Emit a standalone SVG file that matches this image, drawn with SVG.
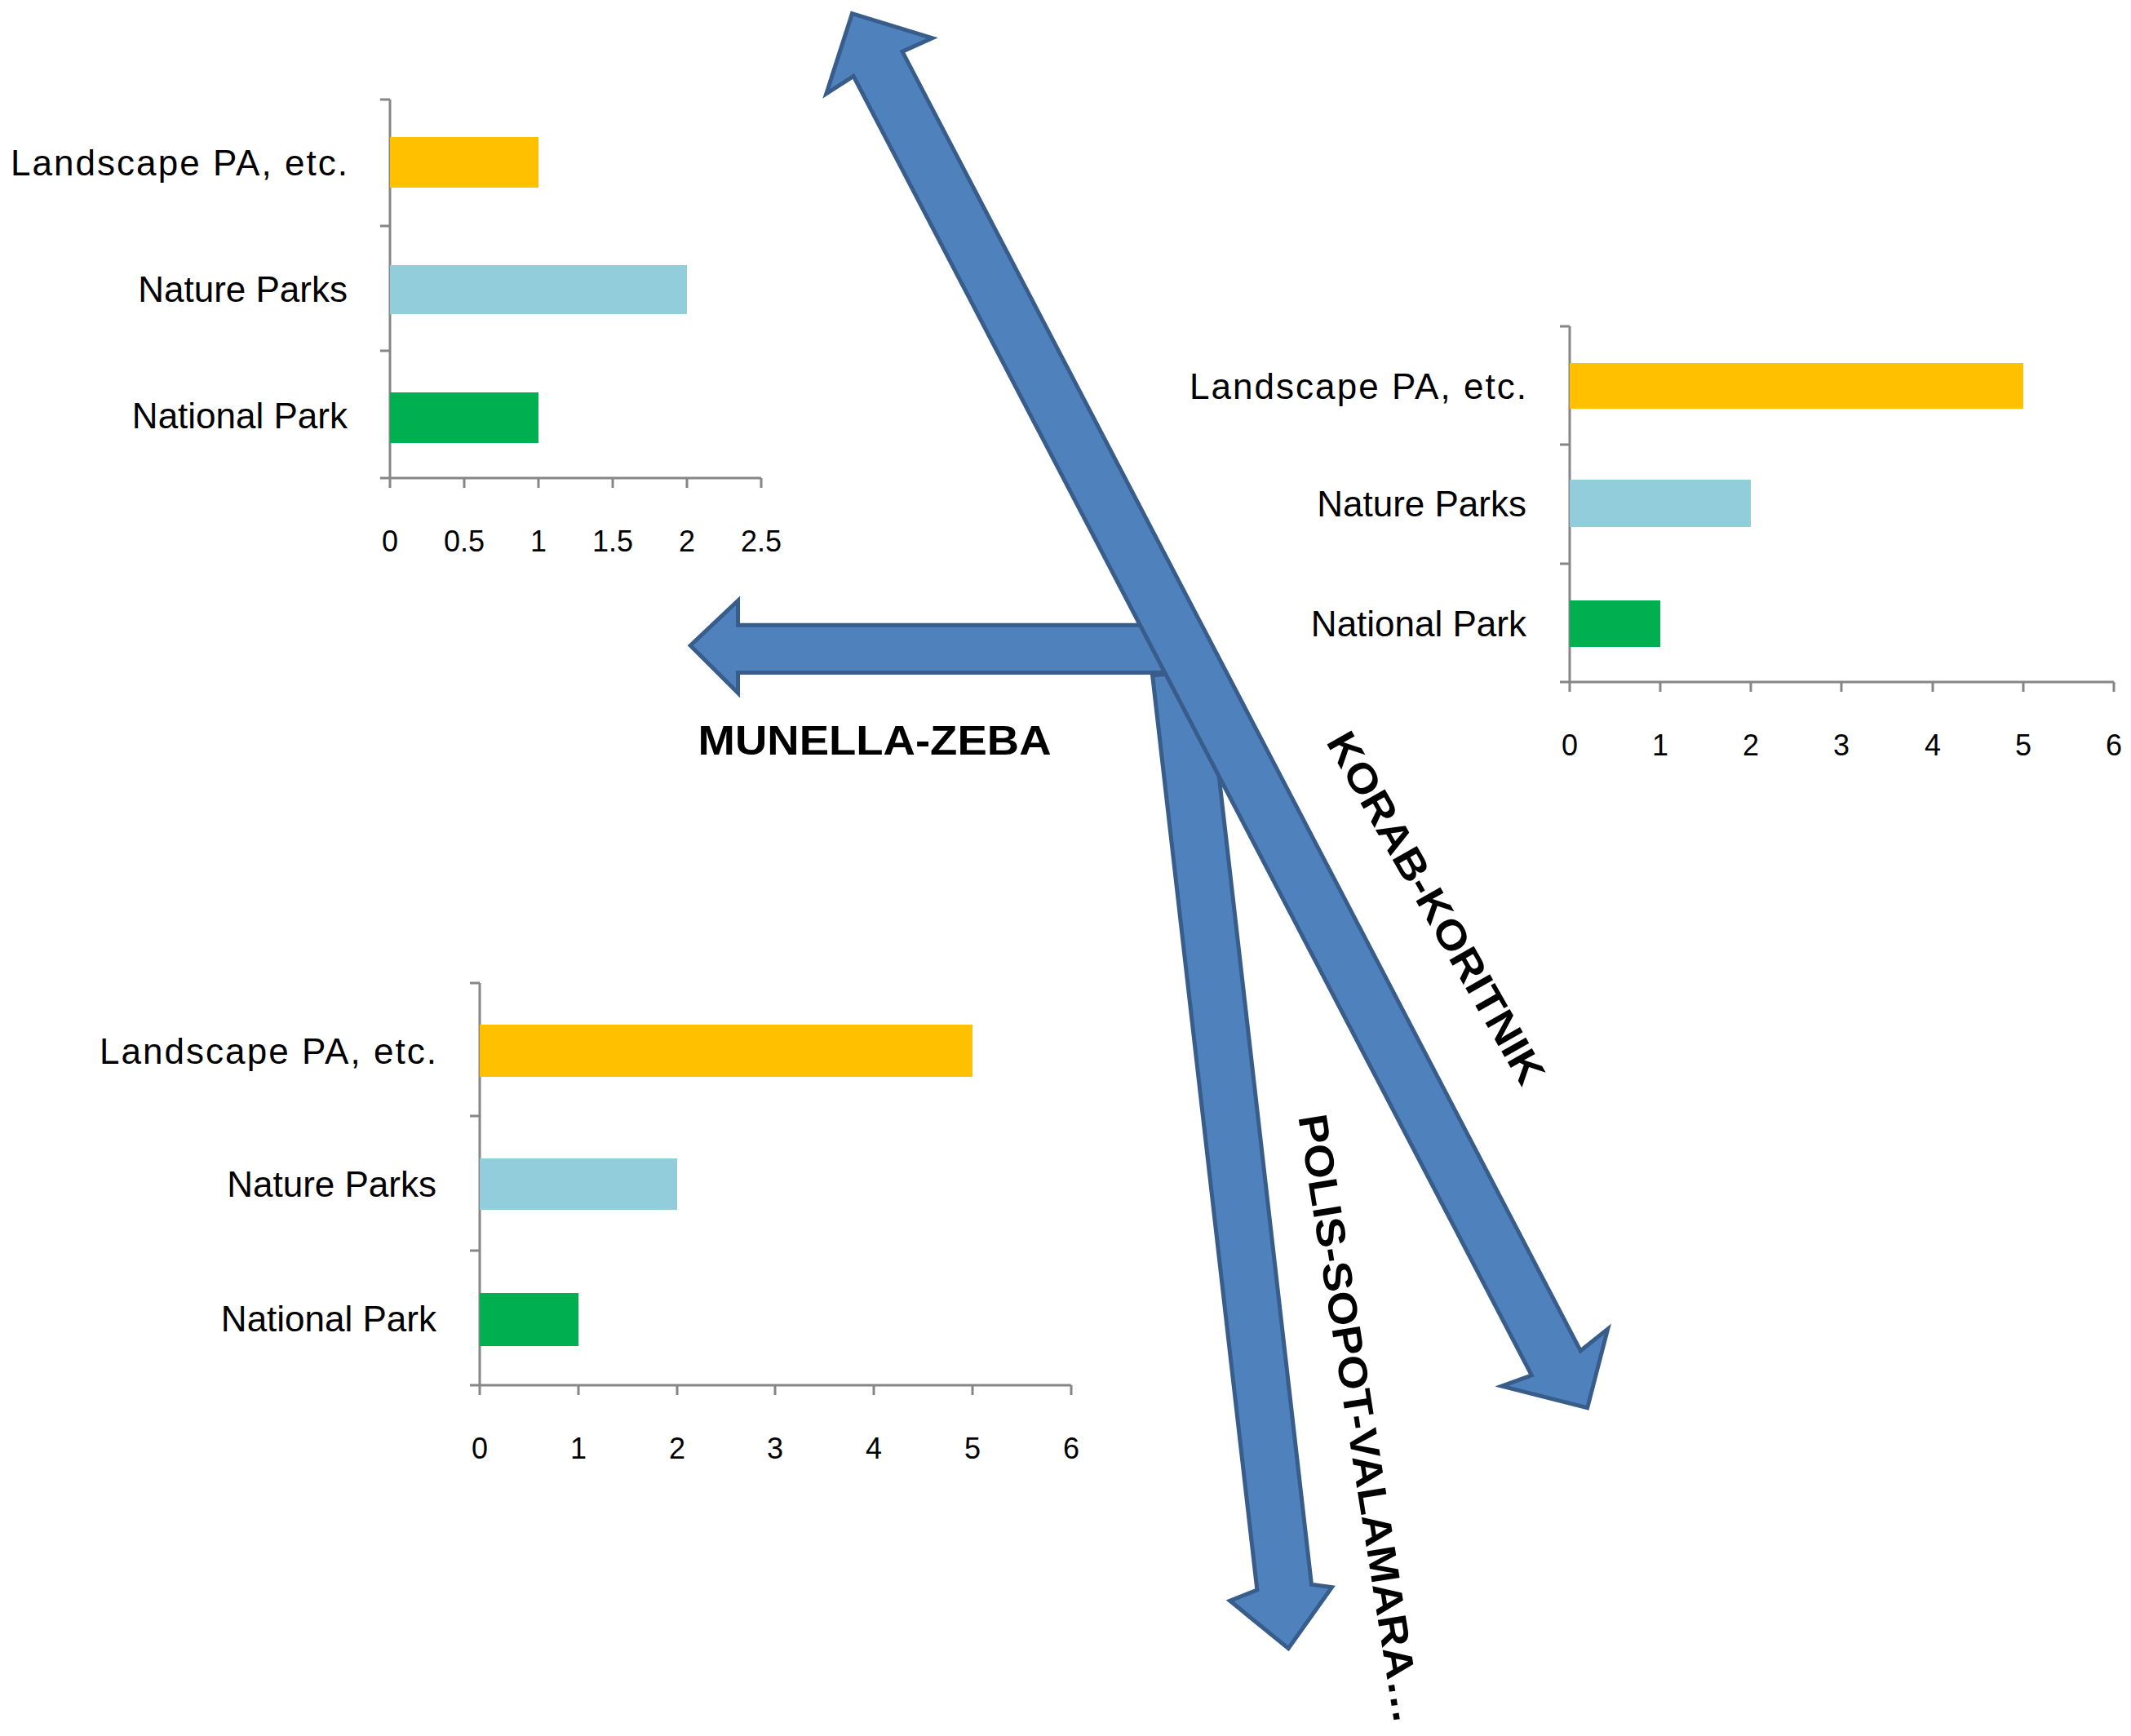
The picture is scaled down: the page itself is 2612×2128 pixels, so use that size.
<svg xmlns="http://www.w3.org/2000/svg" width="2612" height="2128" viewBox="0 0 2612 2128">
<style>
.ax{stroke:#868686;stroke-width:3;fill:none}
.lb{font-family:"Liberation Sans",Arial,sans-serif;font-size:44px;fill:#000;text-anchor:end}
.tk{font-family:"Liberation Sans",Arial,sans-serif;font-size:36px;fill:#000;text-anchor:middle}
.ar{fill:#4f81bd;stroke:#385d8a;stroke-width:3;stroke-linejoin:miter}
.at{font-family:"Liberation Sans",Arial,sans-serif;font-size:50px;font-weight:bold;fill:#000;text-anchor:middle}
.y{fill:#ffc000}.b{fill:#92cddc}.g{fill:#00b050}
</style>
<rect width="2612" height="2128" fill="#fff"/>
<g id="chart1">
<path class="ax" d="M478 122V586M466 122H478M466 277H478M466 430H478M466 586H478M478 586H933M478 586v12M569 586v12M660 586v12M751 586v12M842 586v12M933 586v12"/>
<rect class="y" x="478" y="168" width="182" height="62"/>
<rect class="b" x="478" y="325" width="364" height="60"/>
<rect class="g" x="478" y="481" width="182" height="62"/>
<text class="lb" x="426" y="215" textLength="413">Landscape PA, etc.</text>
<text class="lb" x="426" y="370">Nature Parks</text>
<text class="lb" x="426" y="525">National Park</text>
<text class="tk" x="478" y="676">0</text><text class="tk" x="569" y="676">0.5</text><text class="tk" x="660" y="676">1</text><text class="tk" x="751" y="676">1.5</text><text class="tk" x="842" y="676">2</text><text class="tk" x="933" y="676">2.5</text>
</g>
<g id="chart2">
<path class="ax" d="M1924 400V836M1912 400H1924M1912 545H1924M1912 691H1924M1912 836H1924M1924 836H2591M1924 836v12M2035 836v12M2146 836v12M2257 836v12M2369 836v12M2480 836v12M2591 836v12"/>
<rect class="y" x="1924" y="445" width="556" height="56"/>
<rect class="b" x="1924" y="588" width="222" height="58"/>
<rect class="g" x="1924" y="736" width="111" height="57"/>
<text class="lb" x="1871" y="489" textLength="413">Landscape PA, etc.</text>
<text class="lb" x="1871" y="633">Nature Parks</text>
<text class="lb" x="1871" y="780">National Park</text>
<text class="tk" x="1924" y="926">0</text><text class="tk" x="2035" y="926">1</text><text class="tk" x="2146" y="926">2</text><text class="tk" x="2257" y="926">3</text><text class="tk" x="2369" y="926">4</text><text class="tk" x="2480" y="926">5</text><text class="tk" x="2591" y="926">6</text>
</g>
<g id="chart3">
<path class="ax" d="M588 1205V1698M576 1205H588M576 1368H588M576 1533H588M576 1698H588M588 1698H1313M588 1698v12M709 1698v12M830 1698v12M950 1698v12M1071 1698v12M1192 1698v12M1313 1698v12"/>
<rect class="y" x="588" y="1256" width="604" height="64"/>
<rect class="b" x="588" y="1420" width="242" height="63"/>
<rect class="g" x="588" y="1585" width="121" height="65"/>
<text class="lb" x="535" y="1304" textLength="413">Landscape PA, etc.</text>
<text class="lb" x="535" y="1467">Nature Parks</text>
<text class="lb" x="535" y="1632">National Park</text>
<text class="tk" x="588" y="1788">0</text><text class="tk" x="709" y="1788">1</text><text class="tk" x="830" y="1788">2</text><text class="tk" x="950" y="1788">3</text><text class="tk" x="1071" y="1788">4</text><text class="tk" x="1192" y="1788">5</text><text class="tk" x="1313" y="1788">6</text>
</g>
<g id="connectors">
<g transform="scale(1.6658)">
<polygon class="ar" stroke-width="2" points="508,475 543,442 543,460 845,460 858,495 543,495 543,510"/>
<polygon class="ar" stroke-width="2" points="848,497 888,493 965,1166 980,1168 948,1213 905,1178 925,1170"/>
<polygon class="ar" stroke-width="2" points="627,10 686,28 664,38 1163,994 1183,978 1168,1036 1105,1020 1127,1012 628,56 608,69"/>
</g>
<text class="at" x="1072" y="925" textLength="433" lengthAdjust="spacingAndGlyphs">MUNELLA-ZEBA</text>
<text class="at" transform="translate(1760,1113) rotate(60.4)" y="17" textLength="488" lengthAdjust="spacingAndGlyphs">KORAB-KORITNIK</text>
<text class="at" transform="translate(1667,1739) rotate(81)" y="17" textLength="755" lengthAdjust="spacingAndGlyphs">POLIS-SOPOT-VALAMARA…</text>
</g>
</svg>
